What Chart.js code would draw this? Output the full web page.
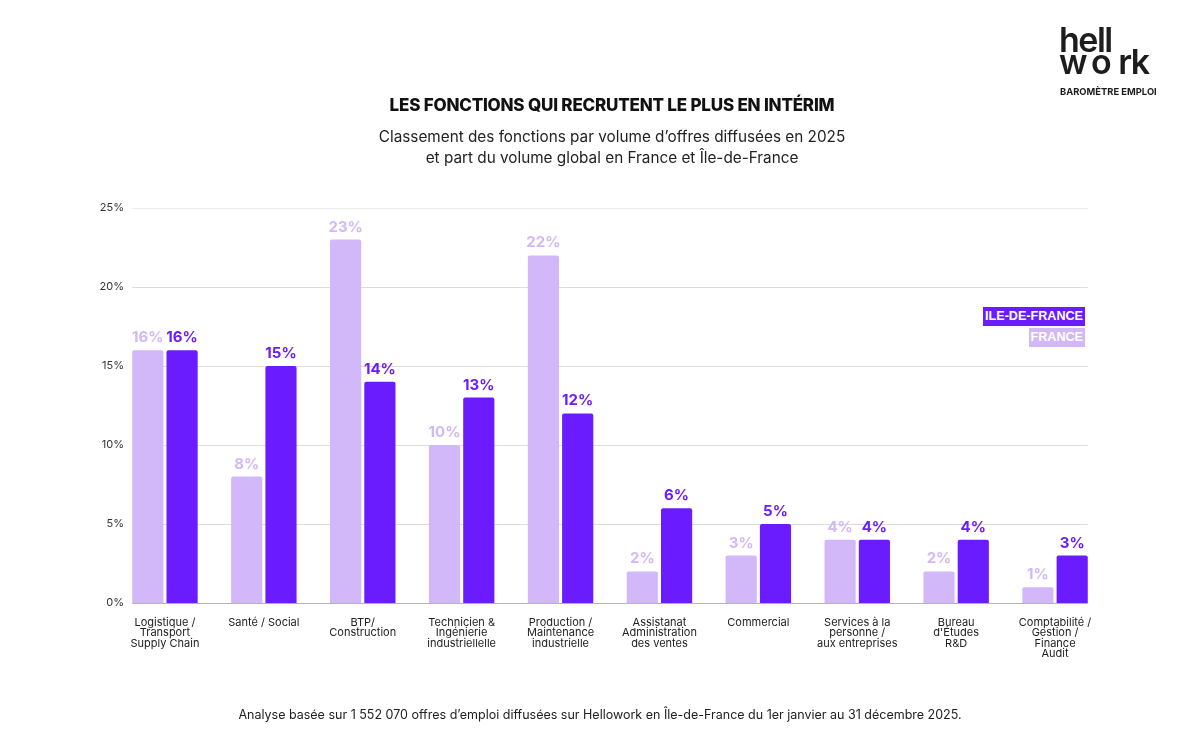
<!DOCTYPE html>
<html lang="fr">
<head>
<meta charset="utf-8">
<script src="https://cdn.jsdelivr.net/npm/chart.js@4"></script>
<style>
  body { margin: 0; background: #fff; font-family: Inter, "Noto Sans", sans-serif; color: #111; }
  #wrap { position: relative; width: 1200px; height: 740px; overflow: hidden; }
  canvas { position: absolute; left: 0; top: 0; }
  .abs { position: absolute; }
  #title { left: 12px; width: 1200px; top: 95px; text-align: center; font-weight: 800; font-size: 17px; letter-spacing: -0.2px; }
  #subtitle { left: 12px; width: 1200px; top: 126px; text-align: center; font-size: 15.3px; line-height: 21px; color: #222; }
  #footer { left: 0; width: 1200px; top: 707px; text-align: center; font-size: 12.5px; color: #222; }
  #logo { left: 1059px; top: 29px; font-weight: 600; font-size: 34px; line-height: 22px; letter-spacing: -1.5px; color: #1d1d1d; }
  #logo span { margin: 0 8px 0 5px; }
  #baro { left: 1060px; top: 86px; font-weight: 700; font-size: 9.4px; color: #1d1d1d; }
  .leg { position: absolute; font-family: "Liberation Sans", Arial, sans-serif; font-weight: 700; font-size: 12.6px; color: #fff; padding: 1px 2px; line-height: 17px; }
</style>
</head>
<body>
<div id="wrap">
  <canvas id="chart" width="1200" height="740"></canvas>
  <div id="logo" class="abs">hell<br>w<span>o</span>rk</div>
  <div id="baro" class="abs">BAROMÈTRE EMPLOI</div>
  <div id="title" class="abs">LES FONCTIONS QUI RECRUTENT LE PLUS EN INTÉRIM</div>
  <div id="subtitle" class="abs">Classement des fonctions par volume d’offres diffusées en 2025<br>et part du volume global en France et Île-de-France</div>
  <div id="legIdf" class="leg" style="right:115px; top:307px;"></div>
  <div id="legFr" class="leg" style="right:115px; top:328px;"></div>
  <div id="footer" class="abs">Analyse basée sur 1 552 070 offres d’emploi diffusées sur Hellowork en Île-de-France du 1er janvier au 31 décembre 2025.</div>
</div>
<script>
// catégories (fonctions)
const categories = [
  ["Logistique /", "Transport", "Supply Chain"],
  ["Santé / Social"],
  ["BTP/", "Construction"],
  ["Technicien &", "Ingénierie", "industriellelle"],
  ["Production /", "Maintenance", "industrielle"],
  ["Assistanat", "Administration", "des ventes"],
  ["Commercial"],
  ["Services à la", "personne /", "aux entreprises"],
  ["Bureau", "d'Études", "R&D"],
  ["Comptabilité /", "Gestion /", "Finance", "Audit"]
];

// part du volume global (%)
const franceValues = [16, 8, 23, 10, 22, 2, 3, 4, 2, 1];
const idfValues = [16, 15, 14, 13, 12, 6, 5, 4, 4, 3];

const yTicks = [0, 5, 10, 15, 20, 25];

const lightPurple = '#d2b8f8';
const darkPurple = '#6b1cfe';

document.getElementById('legIdf').innerText = 'ILE-DE-FRANCE';
document.getElementById('legIdf').style.background = darkPurple;
document.getElementById('legFr').innerText = 'FRANCE';
document.getElementById('legFr').style.background = lightPurple;

// lignes horizontales limitées à la zone des barres
const gridPlugin = {
  id: 'gridBars',
  beforeDatasetsDraw(chart) {
    const ctx = chart.ctx;
    const y = chart.scales.y;
    const m0 = chart.getDatasetMeta(0).data;
    const m1 = chart.getDatasetMeta(1).data;
    const left = m0[0].x - m0[0].width / 2;
    const right = m1[m1.length - 1].x + m1[m1.length - 1].width / 2;
    ctx.save();
    ctx.lineWidth = 1;
    yTicks.forEach(v => {
      const py = Math.round(y.getPixelForValue(v)) + 0.5;
      ctx.strokeStyle = v === 0 ? '#b4b4b4' : (v === 25 ? '#ececec' : '#dcdcdc');
      ctx.beginPath();
      ctx.moveTo(left, py);
      ctx.lineTo(right, py);
      ctx.stroke();
    });
    ctx.restore();
  }
};

// valeurs au-dessus des barres
const valuePlugin = {
  id: 'values',
  afterDatasetsDraw(chart) {
    const ctx = chart.ctx;
    ctx.save();
    ctx.font = '700 15px Inter';
    ctx.textAlign = 'center';
    ctx.textBaseline = 'bottom';
    chart.data.datasets.forEach((ds, di) => {
      chart.getDatasetMeta(di).data.forEach((bar, i) => {
        ctx.fillStyle = ds.backgroundColor;
        ctx.fillText(ds.data[i] + '%', bar.x, bar.y - 5);
      });
    });
    ctx.restore();
  }
};

new Chart(document.getElementById('chart'), {
  type: 'bar',
  data: {
    labels: categories,
    datasets: [
      { label: 'FRANCE', data: franceValues, backgroundColor: lightPurple, borderRadius: 2, borderSkipped: 'bottom' },
      { label: 'ILE-DE-FRANCE', data: idfValues, backgroundColor: darkPurple, borderRadius: 2, borderSkipped: 'bottom' }
    ]
  },
  options: {
    responsive: false,
    animation: false,
    layout: { padding: { top: 208, right: 95.5, bottom: 0, left: 0 } },
    datasets: { bar: { categoryPercentage: 0.693, barPercentage: 0.91 } },
    plugins: { legend: { display: false }, tooltip: { enabled: false } },
    scales: {
      x: {
        grid: { display: false },
        border: { display: false },
        afterFit: s => { s.height = 137; },
        ticks: {
          color: '#222', padding: 7, maxRotation: 0, autoSkip: false,
          font: { family: 'Inter', size: 11, lineHeight: 0.92 }
        }
      },
      y: {
        min: 0, max: 25,
        afterFit: s => { s.width = 115.5; },
        grid: { display: false, drawTicks: false },
        border: { display: false },
        // étiquettes "mirror" alignées à droite, juste avant les barres
        ticks: {
          stepSize: 5, color: '#333', mirror: true, crossAlign: 'far', padding: -16,
          font: { family: 'Inter', size: 11 },
          callback: v => v + '%'
        }
      }
    }
  },
  plugins: [gridPlugin, valuePlugin]
});
</script>
</body>
</html>
